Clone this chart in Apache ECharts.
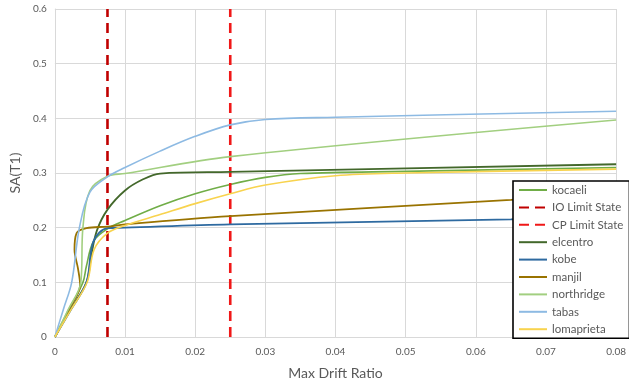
<!DOCTYPE html>
<html>
<head>
<meta charset="utf-8">
<script src="https://cdn.jsdelivr.net/npm/echarts@6/dist/echarts.min.js"></script>
<style>
  html, body { margin: 0; padding: 0; background: #fff; }
  #chart { width: 629px; height: 385px; }
</style>
</head>
<body>
<div id="chart"></div>
<script>
// IDA curves, [max drift ratio, SA(T1)]
var kocaeli = [[0,0],[0.002,0.05],[0.004,0.1],[0.0045,0.13],[0.0055,0.175],[0.0075,0.198],[0.01,0.213],[0.015,0.24],[0.02,0.262],[0.025,0.279],[0.03,0.292],[0.035,0.299],[0.05,0.303],[0.08,0.31]];
var elcentro = [[0,0],[0.0022,0.05],[0.0045,0.1],[0.0052,0.15],[0.006,0.195],[0.0075,0.233],[0.01,0.268],[0.0125,0.288],[0.015,0.299],[0.025,0.302],[0.08,0.316]];
var kobe = [[0,0],[0.0023,0.05],[0.0045,0.1],[0.0055,0.175],[0.0075,0.199],[0.01,0.2],[0.025,0.206],[0.065,0.215],[0.08,0.219]];
var manjil = [[0,0],[0.002,0.05],[0.0036,0.095],[0.0033,0.125],[0.0028,0.16],[0.0031,0.19],[0.0045,0.199],[0.0075,0.202],[0.01,0.206],[0.025,0.221],[0.065,0.251],[0.08,0.262]];
var northridge = [[0,0],[0.0019,0.05],[0.0037,0.1],[0.004,0.2],[0.005,0.268],[0.0075,0.294],[0.01,0.299],[0.025,0.33],[0.08,0.397]];
var tabas = [[0,0],[0.0012,0.05],[0.0024,0.1],[0.0035,0.2],[0.005,0.265],[0.0075,0.293],[0.01,0.31],[0.015,0.34],[0.02,0.367],[0.025,0.388],[0.03,0.398],[0.04,0.402],[0.08,0.413]];
var lomaprieta = [[0,0],[0.0023,0.05],[0.0046,0.1],[0.0056,0.16],[0.0075,0.19],[0.01,0.204],[0.015,0.224],[0.02,0.244],[0.025,0.262],[0.03,0.278],[0.04,0.295],[0.05,0.3],[0.08,0.307]];
var ioLimit = [[0.0075,0],[0.0075,0.6]];
var cpLimit = [[0.025,0],[0.025,0.6]];

var chart = echarts.init(document.getElementById('chart'));

function curve(name, data, color, width) {
  return {
    name: name, type: 'line', data: data, smooth: 0.35,
    showSymbol: false, symbol: 'none',
    lineStyle: { color: color, width: width || 1.6 },
    itemStyle: { color: color }
  };
}
function limit(name, data, color) {
  return {
    name: name, type: 'line', data: data, showSymbol: false, symbol: 'none',
    lineStyle: { color: color, width: 2.6, type: [10, 6] },
    itemStyle: { color: color }
  };
}

var txt = '#595959';
chart.setOption({
  animation: false,
  textStyle: { fontFamily: 'Lato' },
  grid: { left: 53, right: 8, top: 9, bottom: 47 },
  xAxis: {
    type: 'value', min: 0, max: 0.08, interval: 0.01,
    name: 'Max Drift Ratio', nameLocation: 'middle', nameGap: 29,
    nameTextStyle: { color: txt, fontSize: 14 },
    axisLine: { show: true, lineStyle: { color: '#d9d9d9' } },
    axisTick: { show: false },
    axisLabel: { color: txt, fontSize: 10, margin: 10 },
    splitLine: { lineStyle: { color: '#d9d9d9' } }
  },
  yAxis: {
    type: 'value', min: 0, max: 0.6, interval: 0.1,
    name: 'SA(T1)', nameLocation: 'middle', nameGap: 23,
    nameTextStyle: { color: txt, fontSize: 14 },
    axisLine: { show: true, lineStyle: { color: '#d9d9d9' } },
    axisTick: { show: false },
    axisLabel: { color: txt, fontSize: 10, margin: 8 },
    splitLine: { lineStyle: { color: '#d9d9d9' } }
  },
  legend: {
    orient: 'vertical', left: 513, top: 181, width: 106,
    backgroundColor: '#fff', borderColor: '#000', borderWidth: 1.6,
    padding: [3, 6, 3, 5], itemWidth: 28, itemHeight: 12, itemGap: 5.4,
    itemStyle: { opacity: 0 },
    textStyle: { color: txt, fontSize: 11.5 },
    data: ['kocaeli', 'IO Limit State', 'CP Limit State', 'elcentro', 'kobe', 'manjil', 'northridge', 'tabas', 'lomaprieta']
  },
  series: [
    curve('kocaeli', kocaeli, '#70AD47'),
    limit('IO Limit State', ioLimit, '#C00000'),
    limit('CP Limit State', cpLimit, '#F01818'),
    curve('elcentro', elcentro, '#43682B', 1.8),
    curve('kobe', kobe, '#2E6AA0', 1.8),
    curve('manjil', manjil, '#997300', 1.8),
    curve('northridge', northridge, '#A2CF80'),
    curve('tabas', tabas, '#8DBAE3'),
    curve('lomaprieta', lomaprieta, '#F8D34E')
  ]
});
</script>
</body>
</html>
